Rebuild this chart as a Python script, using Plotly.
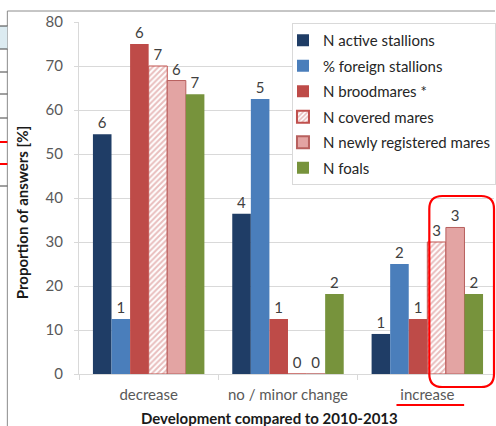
import plotly.graph_objects as go

# ---------------- data ----------------
categories = ["decrease", "no / minor change", "increase"]
series_names = ["N active stallions", "% foreign stallions", "N broodmares *",
                "N covered mares", "N newly registered mares", "N foals"]
active_stallions = [54.5, 36.4, 9.1]
foreign_stallions = [12.5, 62.5, 25.0]
broodmares = [75.0, 12.5, 12.5]
covered_mares = [70.0, 0.0, 30.0]
newly_registered = [66.7, 0.0, 33.3]
foals = [63.6, 18.2, 18.2]

n_active_stallions = [6, 4, 1]
n_foreign_stallions = [1, 5, 2]
n_broodmares = [6, 1, 1]
n_covered_mares = [7, 0, 3]
n_newly_registered = [6, 0, 3]
n_foals = [7, 2, 2]

y_ticks = [0, 10, 20, 30, 40, 50, 60, 70, 80]

# ---------------- layout helpers ----------------
W, H = 496, 426
L, R, T, B = 79, 0, 22, 52
PW, PH = W - L - R, H - T - B


def px(x):
    return (x - L) / PW


def py(y):
    return (H - B - y) / PH


fig = go.Figure()

values = [active_stallions, foreign_stallions, broodmares, covered_mares, newly_registered, foals]
counts = [n_active_stallions, n_foreign_stallions, n_broodmares, n_covered_mares, n_newly_registered, n_foals]
colors = ["#1F3D66", "#4A7EBB", "#BE4B48", "#FFFFFF", "#E3A4A3", "#77933C"]
lines = ["#1F3D66", "#4A7EBB", "#BE4B48", "#C0504D", "#B8605E", "#77933C"]

for i, name in enumerate(series_names):
    marker = dict(color=colors[i], line=dict(color=lines[i], width=1 if i in (3, 4) else 0))
    if i == 3:
        marker["pattern"] = dict(shape="/", fgcolor="#D27C7B", bgcolor="#FFFFFF", size=4, solidity=0.5)
    fig.add_trace(go.Bar(
        x=categories, y=values[i], name=name, marker=marker,
        text=[str(c) for c in counts[i]], textposition="outside",
        textfont=dict(family="Lato", size=15, color="#404040"),
        cliponaxis=False, legendgroup=str(i),
    ))

shapes = []
# outer frame of the screenshot
shapes.append(dict(type="line", xref="paper", yref="paper", x0=px(7), x1=px(497), y0=py(11), y1=py(11),
                   line=dict(color="#8C8C8C", width=1)))
shapes.append(dict(type="line", xref="paper", yref="paper", x0=px(7), x1=px(7), y0=py(11), y1=py(430),
                   line=dict(color="#8C8C8C", width=1)))
# table fragment on the left
shapes.append(dict(type="rect", xref="paper", yref="paper", x0=px(-1), x1=px(7), y0=py(26), y1=py(49),
                   fillcolor="#DCEBF1", line=dict(width=0)))
for yy in [26, 49, 72, 94, 118, 186]:
    shapes.append(dict(type="line", xref="paper", yref="paper", x0=px(-1), x1=px(7), y0=py(yy), y1=py(yy),
                       line=dict(color="#404040", width=1)))
for yy in [142, 164]:
    shapes.append(dict(type="line", xref="paper", yref="paper", x0=px(-1), x1=px(7), y0=py(yy), y1=py(yy),
                       line=dict(color="#FF0000", width=2)))

# red rounded rectangle highlighting
x0r, x1r, y0r, y1r, rr = 431, 496, 196, 387, 13
path = (f"M {px(x0r + rr)},{py(y0r)} L {px(x1r - rr)},{py(y0r)} "
        f"Q {px(x1r)},{py(y0r)} {px(x1r)},{py(y0r + rr)} "
        f"L {px(x1r)},{py(y1r - rr)} Q {px(x1r)},{py(y1r)} {px(x1r - rr)},{py(y1r)} "
        f"L {px(x0r + rr)},{py(y1r)} Q {px(x0r)},{py(y1r)} {px(x0r)},{py(y1r - rr)} "
        f"L {px(x0r)},{py(y0r + rr)} Q {px(x0r)},{py(y0r)} {px(x0r + rr)},{py(y0r)} Z")
shapes.append(dict(type="path", xref="paper", yref="paper", path=path, line=dict(color="#FF0000", width=2.2)))
# red underline under "increase"
shapes.append(dict(type="line", xref="paper", yref="paper", x0=px(398), x1=px(466), y0=py(405), y1=py(405),
                   line=dict(color="#FF0000", width=2)))

annotations = [
    dict(text="<b>Development compared to 2010-2013</b>", xref="paper", yref="paper",
         x=px(270), y=py(418), xanchor="center", yanchor="middle", showarrow=False,
         font=dict(family="Lato", size=15, color="#1A1A1A")),
    dict(text="<b>Proportion of answers [%]</b>", xref="paper", yref="paper",
         x=px(22), y=py(212), xanchor="center", yanchor="middle", showarrow=False, textangle=-90,
         font=dict(family="Lato", size=15, color="#1A1A1A")),
]

fig.update_layout(
    width=W, height=H,
    margin=dict(l=L, r=R, t=T, b=B, pad=0),
    paper_bgcolor="white", plot_bgcolor="white",
    barmode="group", bargap=0.2, bargroupgap=0,
    font=dict(family="Lato", size=14, color="#404040"),
    showlegend=True,
    legend=dict(x=px(293), y=py(23), xanchor="left", yanchor="top",
                bgcolor="white", bordercolor="#D9D9D9", borderwidth=1,
                font=dict(family="Lato", size=15, color="#262626"),
                tracegroupgap=3, indentation=-10, itemsizing="constant"),
    xaxis=dict(range=[-0.5, -0.5 + PW / 140.0], showgrid=False, showline=True, linecolor="#D9D9D9",
               ticks="outside", tickson="boundaries", ticklen=5, tickcolor="#D9D9D9",
               tickfont=dict(family="Lato", size=15, color="#595959"), ticklabelstandoff=7,
               fixedrange=True),
    yaxis=dict(range=[0, 80], tickvals=y_ticks, showgrid=True, gridcolor="#D9D9D9", gridwidth=1,
               showline=True, linecolor="#D9D9D9", ticks="outside", ticklen=4, tickcolor="#D9D9D9",
               tickfont=dict(family="Lato", size=15, color="#595959"), ticklabelstandoff=8,
               zeroline=False),
    shapes=shapes,
    annotations=annotations,
)

fig.write_html("out.html", config={"displayModeBar": False},
               post_script="document.body.style.margin='0';document.body.style.overflow='hidden';")
